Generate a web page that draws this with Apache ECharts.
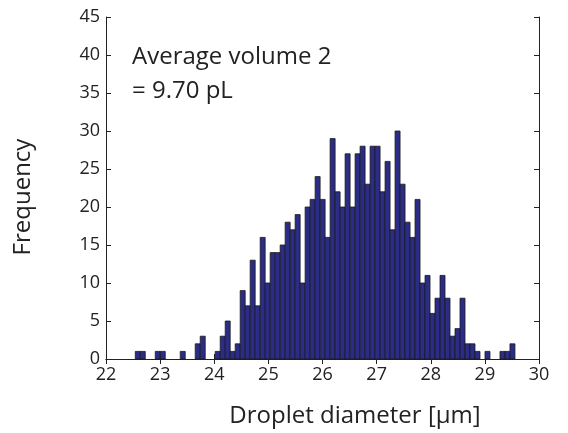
<!DOCTYPE html>
<html>
<head>
<meta charset="utf-8">
<script src="https://cdn.jsdelivr.net/npm/echarts@6/dist/echarts.min.js"></script>
<style>
html,body{margin:0;padding:0;background:#fff;}
#chart{width:568px;height:433px;}
</style>
</head>
<body>
<div id="chart"></div>
<script>
// Histogram bins (droplet diameter, µm)
var binFirstEdge = 22.541;
var binWidth = 0.0923;
var counts = [1,1,0,0,1,1,0,0,0,1,0,0,2,3,0,0,1,3,5,1,2,9,7,13,7,16,10,14,14,15,18,17,19,10,20,21,24,21,16,29,22,20,27,20,27,28,23,28,28,22,26,17,30,23,18,16,21,10,11,6,8,11,8,3,4,8,2,2,1,0,1,0,0,1,1,2];
var xTicks = [22,23,24,25,26,27,28,29,30];
var yTicks = [0,5,10,15,20,25,30,35,40,45];
var xTitle = 'Droplet diameter [μm]';
var yTitle = 'Frequency';
var noteLines = ['Average volume 2', '= 9.70 pL'];

var barData = [];
for (var i = 0; i < counts.length; i++) {
  var x0 = binFirstEdge + i * binWidth;
  barData.push([x0, x0 + binWidth, counts[i]]);
}

var FONT = 'Open Sans';
var chart = echarts.init(document.getElementById('chart'));
var axisLine = {show: true, lineStyle: {color: '#222', width: 1}};
var tick = {show: true, inside: true, length: 5, lineStyle: {color: '#222'}};
chart.setOption({
  animation: false,
  backgroundColor: '#fff',
  grid: {left: 106, right: 29, top: 17, bottom: 74, containLabel: false},
  xAxis: [{
    type: 'value', min: xTicks[0], max: xTicks[xTicks.length - 1], interval: 1,
    axisLine: axisLine, axisTick: tick, splitLine: {show: false},
    axisLabel: {color: '#222', fontSize: 18, fontFamily: FONT, margin: 7}
  }, {
    type: 'value', position: 'top', min: xTicks[0], max: xTicks[xTicks.length - 1], interval: 1,
    axisLine: axisLine, axisTick: tick, axisLabel: {show: false}, splitLine: {show: false}
  }],
  yAxis: [{
    type: 'value', min: yTicks[0], max: yTicks[yTicks.length - 1], interval: 5,
    axisLine: axisLine, axisTick: tick, splitLine: {show: false},
    axisLabel: {color: '#222', fontSize: 18, fontFamily: FONT, margin: 6}
  }, {
    type: 'value', position: 'right', min: yTicks[0], max: yTicks[yTicks.length - 1], interval: 5,
    axisLine: axisLine, axisTick: tick, axisLabel: {show: false}, splitLine: {show: false}
  }],
  series: [{
    type: 'custom',
    data: barData,
    encode: {x: [0, 1], y: 2},
    renderItem: function (params, api) {
      var h = api.value(2);
      if (!h) return null;
      var p0 = api.coord([api.value(0), h]);
      var p1 = api.coord([api.value(1), 0]);
      return {
        type: 'rect',
        shape: {x: p0[0], y: p0[1], width: p1[0] - p0[0], height: p1[1] - p0[1]},
        style: {fill: '#2b2c85', stroke: '#1a1a1a', lineWidth: 0.8}
      };
    }
  }],
  graphic: [{
    type: 'text', left: 132, top: 40,
    style: {text: noteLines.join('\n'), fontSize: 24, lineHeight: 34, fontFamily: FONT, fill: '#222'}
  }, {
    type: 'text', x: 355, y: 416,
    style: {text: xTitle, fontSize: 24, fontFamily: FONT, fill: '#222', align: 'center', verticalAlign: 'middle'}
  }, {
    type: 'text', x: 23, y: 197, rotation: Math.PI / 2,
    style: {text: yTitle, fontSize: 24, fontFamily: FONT, fill: '#222', align: 'center', verticalAlign: 'middle'}
  }]
});
</script>
</body>
</html>
